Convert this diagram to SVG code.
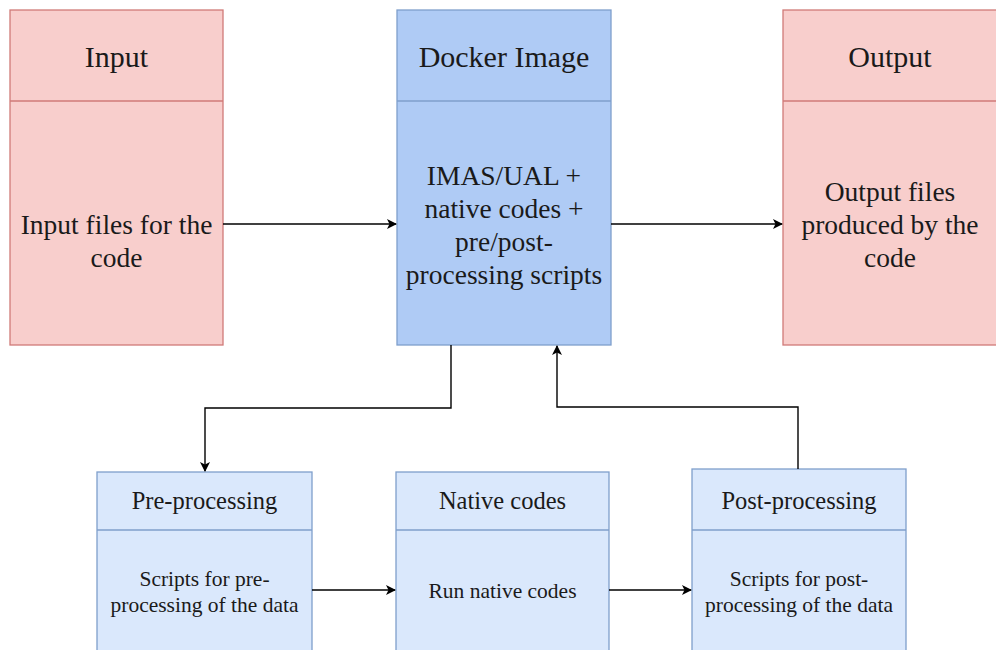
<svg xmlns="http://www.w3.org/2000/svg" width="996" height="650" viewBox="0 0 996 650">
<defs>
<marker id="arr" viewBox="0 0 10 10" refX="9" refY="5" markerWidth="10" markerHeight="10" markerUnits="userSpaceOnUse" orient="auto">
<path d="M0,0 L10,5 L0,10 L2.5,5 Z" fill="#000"/>
</marker>
<style>
.pink{fill:#f8cecc;stroke:#d07a78;stroke-width:1.3}
.dark{fill:#afcbf5;stroke:#7f9fcb;stroke-width:1.3}
.light{fill:#dae8fc;stroke:#7f9fcb;stroke-width:1.3}
text{font-family:"Liberation Serif","Times New Roman",serif;fill:#1a1a1a;text-anchor:middle}
.t1{font-size:30px}
.b1{font-size:27.5px}
.t2{font-size:24.5px}
.b2{font-size:21.5px}
.c{fill:none;stroke:#000;stroke-width:1.4}
</style>
</defs>
<g id="input">
<rect class="pink" x="10" y="10" width="213" height="335"/>
<line class="pink" x1="10" y1="101" x2="223" y2="101"/>
<text class="t1" x="116.5" y="67">Input</text>
<text class="b1" x="116.5" y="234">Input files for the</text>
<text class="b1" x="116.5" y="267">code</text>
</g>
<g id="docker">
<rect class="dark" x="397" y="10" width="214" height="335"/>
<line class="dark" x1="397" y1="101" x2="611" y2="101"/>
<text class="t1" x="504" y="67">Docker Image</text>
<text class="b1" x="504" y="185">IMAS/UAL +</text>
<text class="b1" x="504" y="218">native codes +</text>
<text class="b1" x="504" y="251">pre/post-</text>
<text class="b1" x="504" y="284">processing scripts</text>
</g>
<g id="output">
<rect class="pink" x="783" y="10" width="215" height="335"/>
<line class="pink" x1="783" y1="101" x2="998" y2="101"/>
<text class="t1" x="890" y="67">Output</text>
<text class="b1" x="890" y="201">Output files</text>
<text class="b1" x="890" y="234">produced by the</text>
<text class="b1" x="890" y="267">code</text>
</g>
<g id="pre">
<rect class="light" x="97" y="472" width="215" height="182"/>
<line class="light" x1="97" y1="530" x2="312" y2="530"/>
<text class="t2" x="204.5" y="509">Pre-processing</text>
<text class="b2" x="204.5" y="586">Scripts for pre-</text>
<text class="b2" x="204.5" y="612">processing of the data</text>
</g>
<g id="native">
<rect class="light" x="396" y="472" width="213" height="182"/>
<line class="light" x1="396" y1="530" x2="609" y2="530"/>
<text class="t2" x="502.5" y="509">Native codes</text>
<text class="b2" x="502.5" y="598">Run native codes</text>
</g>
<g id="post">
<rect class="light" x="692" y="469" width="214" height="185"/>
<line class="light" x1="692" y1="530" x2="906" y2="530"/>
<text class="t2" x="799" y="509">Post-processing</text>
<text class="b2" x="799" y="586">Scripts for post-</text>
<text class="b2" x="799" y="612">processing of the data</text>
</g>
<g id="connectors">
<line class="c" x1="223" y1="224" x2="396" y2="224" marker-end="url(#arr)"/>
<line class="c" x1="611" y1="224" x2="782" y2="224" marker-end="url(#arr)"/>
<polyline class="c" points="451,345 451,408 205,408 205,471" marker-end="url(#arr)"/>
<polyline class="c" points="798,469 798,407 557,407 557,346" marker-end="url(#arr)"/>
<line class="c" x1="312" y1="590" x2="395" y2="590" marker-end="url(#arr)"/>
<line class="c" x1="609" y1="590" x2="691" y2="590" marker-end="url(#arr)"/>
</g>
</svg>
